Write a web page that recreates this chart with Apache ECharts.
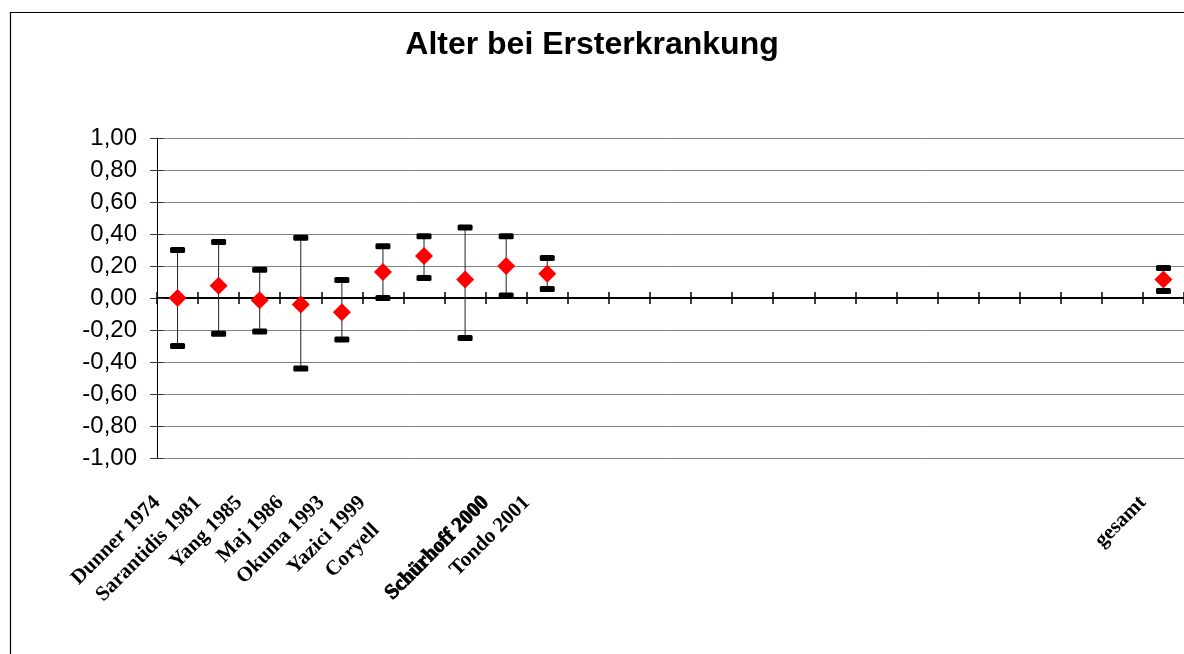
<!DOCTYPE html>
<html>
<head>
<meta charset="utf-8">
<script src="https://cdn.jsdelivr.net/npm/echarts@6/dist/echarts.min.js"></script>
<style>
html,body{margin:0;padding:0;background:#fff;}
#chart{width:1184px;height:654px;}
</style>
</head>
<body>
<div id="chart"></div>
<script>
// ---- data ----
var categories = ['Dunner 1974','Sarantidis 1981','Yang 1985','Maj 1986','Okuma 1993','Yazici 1999','Coryell','','Schürhoff 2000','Tondo 2001',
  '','','','','','','','','','','','','','','gesamt'];
var means = [0.00, 0.077, -0.014, -0.04, -0.089, 0.162, 0.262, 0.115, 0.20, 0.152,
  null,null,null,null,null,null,null,null,null,null,null,null,null,null, 0.115];
var lower = [-0.30, -0.224, -0.21, -0.44, -0.26, 0.00, 0.125, -0.25, 0.015, 0.056,
  null,null,null,null,null,null,null,null,null,null,null,null,null,null, 0.044];
var upper = [0.30, 0.35, 0.177, 0.376, 0.112, 0.324, 0.386, 0.44, 0.386, 0.25,
  null,null,null,null,null,null,null,null,null,null,null,null,null,null, 0.187];
var yTicks = {min: -1, max: 1, step: 0.2};
var chartTitle = 'Alter bei Ersterkrankung';

// ---- build ----
var catData = categories.map(function (c) {
  if (c === 'Schürhoff 2000') {
    return {value: c, textStyle: {textBorderColor: '#000', textBorderWidth: 0.9}};
  }
  if (c === 'Coryell') {
    return {value: c, textStyle: {padding: [0, 68, 0, 0]}};
  }
  return c;
});
var scatterData = means.map(function (v) { return v == null ? '-' : v; });
var barData = [];
for (var i = 0; i < categories.length; i++) {
  if (lower[i] != null && upper[i] != null) barData.push([i, lower[i], upper[i]]);
}

var chart = echarts.init(document.getElementById('chart'), null, {renderer: 'canvas'});
var option = {
  animation: false,
  backgroundColor: '#fff',
  title: {
    text: chartTitle,
    left: 'center',
    top: 24,
    textStyle: {fontFamily: 'Liberation Sans', fontWeight: 'bold', fontSize: 32, color: '#000'}
  },
  graphic: [{
    type: 'rect',
    shape: {x: 10.5, y: 12.5, width: 1300, height: 800},
    style: {fill: 'none', stroke: '#000', lineWidth: 1.2},
    silent: true
  }],
  grid: {left: 157, top: 138, width: 1028, height: 320, containLabel: false},
  xAxis: [{
    type: 'category',
    data: catData,
    position: 'bottom',
    boundaryGap: true,
    axisLine: {show: false, onZero: false},
    axisTick: {show: false},
    splitLine: {show: false},
    axisLabel: {
      interval: 0, rotate: 45, margin: 21,
      padding: [0, 29, 0, 0],
      fontFamily: 'Liberation Serif', fontWeight: 'bold', fontSize: 21, color: '#000'
    }
  }, {
    type: 'category',
    data: categories,
    boundaryGap: true,
    axisLine: {show: true, onZero: true, onZeroAxisIndex: 0, lineStyle: {color: '#000', width: 2}},
    axisTick: {show: true, inside: false, length: 6, interval: 0, lineStyle: {color: '#000', width: 1.5}},
    axisLabel: {show: false},
    splitLine: {show: false}
  }, {
    type: 'category',
    data: categories,
    boundaryGap: true,
    axisLine: {show: false, onZero: true, onZeroAxisIndex: 1},
    axisTick: {show: true, inside: true, length: 6, interval: 0, lineStyle: {color: '#000', width: 1.5}},
    axisLabel: {show: false},
    splitLine: {show: false}
  }],
  yAxis: [{
    type: 'value',
    min: yTicks.min, max: yTicks.max, interval: yTicks.step,
    axisLine: {show: true, lineStyle: {color: '#000', width: 1}},
    axisTick: {show: true, inside: false, length: 7, lineStyle: {color: '#333', width: 1}},
    splitLine: {show: true, lineStyle: {color: '#808080', width: 1}},
    axisLabel: {
      margin: 20,
      fontFamily: 'Liberation Sans', fontSize: 24, color: '#000',
      formatter: function (v) { return v.toFixed(2).replace('.', ','); }
    }
  }, {
    type: 'value',
    position: 'left',
    min: yTicks.min, max: yTicks.max, interval: yTicks.step,
    axisLine: {show: false},
    axisTick: {show: true, inside: true, length: 7, lineStyle: {color: '#333', width: 1}},
    splitLine: {show: false},
    axisLabel: {show: false}
  }],
  series: [{
    type: 'custom',
    xAxisIndex: 0, yAxisIndex: 0,
    z: 3,
    data: barData,
    renderItem: function (params, api) {
      var x = api.value(0);
      var pLo = api.coord([x, api.value(1)]);
      var pHi = api.coord([x, api.value(2)]);
      return {
        type: 'group',
        children: [
          {type: 'line', shape: {x1: pLo[0], y1: pLo[1], x2: pHi[0], y2: pHi[1]}, style: {stroke: '#222', lineWidth: 1}},
          {type: 'rect', shape: {x: pHi[0] - 7.5, y: pHi[1] - 3, width: 15, height: 6, r: 1.5}, style: {fill: '#000'}},
          {type: 'rect', shape: {x: pLo[0] - 7.5, y: pLo[1] - 3, width: 15, height: 6, r: 1.5}, style: {fill: '#000'}}
        ]
      };
    }
  }, {
    type: 'scatter',
    xAxisIndex: 0, yAxisIndex: 0,
    z: 4,
    symbol: 'diamond',
    symbolSize: 18,
    itemStyle: {color: '#ff0000', opacity: 1},
    data: scatterData
  }]
};
chart.setOption(option);
</script>
</body>
</html>
